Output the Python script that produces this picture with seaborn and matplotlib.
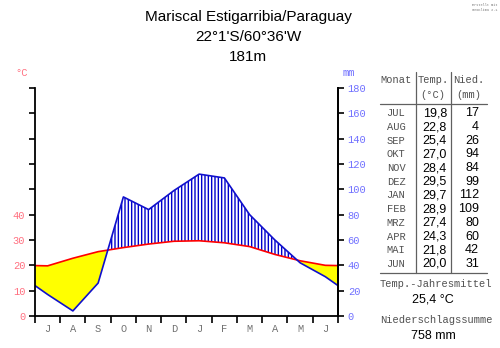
import numpy as np
import pandas as pd
import matplotlib
matplotlib.use("Agg")
import matplotlib.pyplot as plt
import seaborn as sns

# ---- data ----
months_short = ["J", "A", "S", "O", "N", "D", "J", "F", "M", "A", "M", "J"]
months_table = ["JUL", "AUG", "SEP", "OKT", "NOV", "DEZ", "JAN", "FEB", "MRZ", "APR", "MAI", "JUN"]
temp = [19.8, 22.8, 25.4, 27.0, 28.4, 29.5, 29.7, 28.9, 27.4, 24.3, 21.8, 20.0]
precip = [17, 4, 26, 94, 84, 99, 112, 109, 80, 60, 42, 31]
temp_labels = ["19,8", "22,8", "25,4", "27,0", "28,4", "29,5", "29,7", "28,9", "27,4", "24,3", "21,8", "20,0"]
title_lines = ["Mariscal Estigarribia/Paraguay", "22°1'S/60°36'W", "181m"]
mean_temp_text = "25,4 °C"
sum_precip_text = "758 mm"
temp_ticks = [0, 10, 20, 30, 40]
mm_ticks = [0, 20, 40, 60, 80, 100, 120, 140, 160, 180]

sns.set_style("white")
plt.rcParams['font.family'] = ['Liberation Sans', 'DejaVu Sans']
MONO = ['Liberation Mono', 'DejaVu Sans Mono']

fig = plt.figure(figsize=(5.0, 3.48), dpi=100)
ax = fig.add_axes([35/500, 1-316/348, 303/500, 228/348])

# positions: month centres plus wrap-around edges
n = len(temp)
xc = np.arange(n) + 0.5
t_edge = (temp[0] + temp[-1]) / 2
p_edge = (precip[0] + precip[-1]) / 2
x = np.concatenate([[0], xc, [n]])
t_mm = np.concatenate([[t_edge], np.array(temp), [t_edge]]) * 2
p = np.concatenate([[p_edge], np.array(precip, dtype=float), [p_edge]])

# dense grid for clean fills
xd = np.linspace(0, n, 1201)
td = np.interp(xd, x, t_mm)
pd_ = np.interp(xd, x, p)

ax.fill_between(xd, td, pd_, where=td >= pd_, color="#ffff00", linewidth=0, interpolate=True)
ax.fill_between(xd, td, pd_, where=pd_ >= td, facecolor="white", edgecolor="#0000cc",
                hatch="|||||", linewidth=0, interpolate=True)

df = pd.DataFrame({"x": x, "temp": t_mm, "precip": p})
sns.lineplot(data=df, x="x", y="temp", ax=ax, color="#ff0000", linewidth=1.2)
sns.lineplot(data=df, x="x", y="precip", ax=ax, color="#1010cc", linewidth=1.2)

ax.set_xlim(0, n)
ax.set_ylim(0, 180)
ax.set_xlabel("")
ax.set_ylabel("")

ax.spines["top"].set_visible(False)
for s in ["left", "right", "bottom"]:
    ax.spines[s].set_visible(True)
    ax.spines[s].set_color("black")
    ax.spines[s].set_linewidth(1.3)

# x ticks: boundaries as ticks, centres as labels
ax.set_xticks(np.arange(n + 1))
ax.set_xticklabels([])
ax.set_xticks(xc, minor=True)
ax.set_xticklabels(months_short, minor=True, fontfamily=MONO, fontsize=7.5, color="#707070")
ax.tick_params(axis="x", which="major", direction="out", length=5, width=1.2, color="black", bottom=True)
ax.tick_params(axis="x", which="minor", length=0, pad=6, bottom=True)

# left axis: temperature ticks (every 20 mm = 10 °C), labels 0..40
ax.set_yticks(mm_ticks)
ax.set_yticklabels([str(t) if i < len(temp_ticks) else "" for i, t in
                    enumerate(np.array(mm_ticks) // 2)], fontfamily=MONO, fontsize=7.5, color="#ff7080")
ax.tick_params(axis="y", direction="out", length=4, width=1.2, color="black", left=True, pad=3)

ax2 = ax.twinx()
ax2.set_ylim(0, 180)
ax2.set_yticks(mm_ticks)
ax2.set_yticklabels([str(v) for v in mm_ticks], fontfamily=MONO, fontsize=7.5, color="#7070ff")
ax2.tick_params(axis="y", direction="out", length=4, width=1.2, color="black", right=True, pad=3)
for s in ["top", "left", "bottom"]:
    ax2.spines[s].set_visible(False)
ax2.spines["right"].set_color("black")
ax2.spines["right"].set_linewidth(1.3)
ax2.grid(False)
ax.grid(False)

# unit labels
fig.text(22/500, 1-73/348, "°C", color="#ff7080", fontsize=7.5, fontfamily=MONO, ha="center", va="center")
fig.text(349/500, 1-73/348, "mm", color="#7070ff", fontsize=7.5, fontfamily=MONO, ha="center", va="center")

# title
for i, line in enumerate(title_lines):
    fig.text(248/500, 1-(17 + 20*i)/348, line, fontsize=11, ha="center", va="center", color="black")

# credit
fig.text(497/500, 1-3/348, "Erstellt mit\nGeoKlima 2.1", fontsize=2.5, ha="right", va="top",
         color="#777777", fontfamily=MONO)

# table
gray = "#505050"
TF = 7.5
fig.text(396/500, 1-80/348, "Monat", fontfamily=MONO, fontsize=TF, color=gray, ha="center", va="center")
fig.text(433/500, 1-80/348, "Temp.", fontfamily=MONO, fontsize=TF, color=gray, ha="center", va="center")
fig.text(469/500, 1-80/348, "Nied.", fontfamily=MONO, fontsize=TF, color=gray, ha="center", va="center")
fig.text(433/500, 1-95/348, "(°C)", fontfamily=MONO, fontsize=TF, color=gray, ha="center", va="center")
fig.text(469/500, 1-95/348, "(mm)", fontfamily=MONO, fontsize=TF, color=gray, ha="center", va="center")
line_kw = dict(color="#606060", linewidth=0.9, transform=fig.transFigure)
fig.add_artist(plt.Line2D([380/500, 487/500], [1-104/348, 1-104/348], **line_kw))
fig.add_artist(plt.Line2D([380/500, 487/500], [1-273/348, 1-273/348], **line_kw))
fig.add_artist(plt.Line2D([416/500, 416/500], [1-72/348, 1-273/348], **line_kw))
fig.add_artist(plt.Line2D([451/500, 451/500], [1-72/348, 1-273/348], **line_kw))
for i in range(n):
    y = 1 - (113.3 + 13.7*i)/348
    fig.text(396/500, y, months_table[i], fontfamily=MONO, fontsize=TF, color=gray, ha="center", va="center")
    fig.text(447/500, y, temp_labels[i], fontsize=9, color="black", ha="right", va="center")
    fig.text(479/500, y, str(precip[i]), fontsize=9, color="black", ha="right", va="center")

fig.text(436/500, 1-284/348, "Temp.-Jahresmittel", fontfamily=MONO, fontsize=TF, color=gray, ha="center", va="center")
fig.text(433/500, 1-300/348, mean_temp_text, fontsize=9, color="black", ha="center", va="center")
fig.text(436/500, 1-320/348, "Niederschlagssumme", fontfamily=MONO, fontsize=TF, color=gray, ha="center", va="center")
fig.text(433/500, 1-336/348, sum_precip_text, fontsize=9, color="black", ha="center", va="center")

fig.savefig("out.png", dpi=100, facecolor="white")
